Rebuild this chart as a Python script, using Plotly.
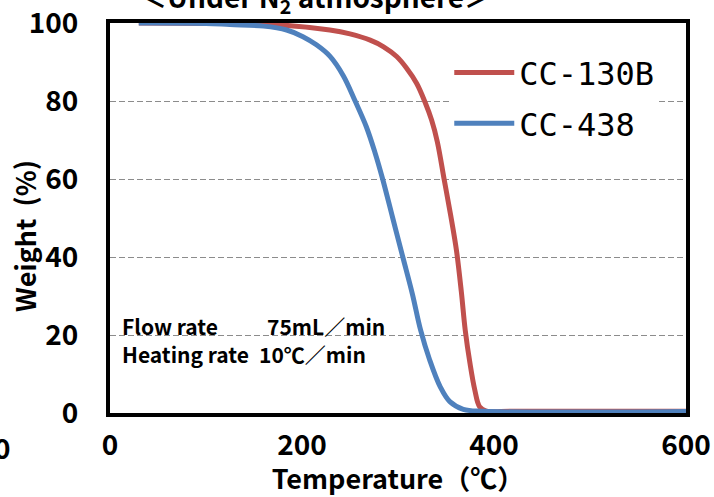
import plotly.graph_objects as go

temp_130b = [30, 100, 177, 229, 250, 271, 285, 298.6, 309, 319.5, 328, 335, 341, 348, 355, 361, 366, 370, 375, 380, 385, 392, 420, 600]
wt_130b = [100, 99.9, 99.5, 98.2, 97.2, 95.6, 93.9, 91.4, 88.4, 84.5, 79.8, 75.1, 69.5, 60, 50.5, 41.5, 31, 21.3, 12.7, 5.9, 1.6, 0.5, 0.45, 0.45]

temp_438 = [30, 100, 125, 160, 184, 201, 215, 229, 243, 255, 267, 276, 284, 294.5, 305, 315, 323.5, 333, 344, 354, 368, 389, 600]
wt_438 = [100, 99.9, 99.6, 99.2, 98.2, 96.5, 94.4, 91.5, 86.5, 80.2, 73.4, 66.8, 60, 50, 40, 30.5, 21.3, 13.6, 6.7, 2.9, 0.95, 0.45, 0.4]

x_ticks = [0, 200, 400, 600]
y_ticks = [0, 20, 40, 60, 80, 100]

FONT = "Noto Sans CJK JP"
RED = "#C0504D"
BLUE = "#4F81BD"

fig = go.Figure()
fig.add_trace(go.Scatter(x=temp_130b, y=wt_130b, mode="lines", name="CC-130B",
                         line=dict(color=RED, width=5, shape="spline", smoothing=1.0),
                         legendgroup="a"))
fig.add_trace(go.Scatter(x=temp_438, y=wt_438, mode="lines", name="CC-438",
                         line=dict(color=BLUE, width=5, shape="spline", smoothing=1.0),
                         legendgroup="b"))

fig.update_layout(
    width=714, height=497,
    margin=dict(l=110, r=28, t=23, b=84),
    paper_bgcolor="white", plot_bgcolor="white",
    font=dict(family=FONT, color="black"),
    showlegend=True,
    legend=dict(x=0.589, y=0.943, xanchor="left", yanchor="top",
                bgcolor="white", font=dict(family="DejaVu Sans Mono", size=32, color="black"),
                tracegroupgap=6, itemwidth=60),
    xaxis=dict(range=[0, 600], tickvals=x_ticks, ticks="", showgrid=False,
               showline=True, linecolor="black", linewidth=4, mirror=True,
               zeroline=False, ticklabelstandoff=4, automargin=False,
               tickfont=dict(family=FONT, size=28, weight="bold"),
               title=dict(text="Temperature（℃）", standoff=9,
                          font=dict(family=FONT, size=27, weight="bold"))),
    yaxis=dict(range=[0, 100], tickvals=y_ticks, ticks="", showgrid=True,
               gridcolor="#8c8c8c", griddash="6px,3px", gridwidth=1.3,
               showline=True, linecolor="black", linewidth=4, mirror=True,
               zeroline=False, ticklabelstandoff=22, automargin=False,
               tickfont=dict(family=FONT, size=28, weight="bold")),
)

# y-axis title
fig.add_annotation(x=(24 - 110) / 576, y=(413 - 236) / 390, xref="paper", yref="paper",
                   text="Weight  (%)", textangle=-90, showarrow=False,
                   xanchor="center", yanchor="middle",
                   font=dict(family=FONT, size=27, weight="bold"))

ann_font = dict(family=FONT, size=21, color="black", weight="bold")
fig.add_annotation(x=10, y=22.3, xref="x", yref="y", text="Flow rate", showarrow=False,
                   xanchor="left", yanchor="middle", font=ann_font)
fig.add_annotation(x=161.5, y=22.3, xref="x", yref="y", text="75mL／min", showarrow=False,
                   xanchor="left", yanchor="middle", font=ann_font)
fig.add_annotation(x=10, y=15.1, xref="x", yref="y", text="Heating rate", showarrow=False,
                   xanchor="left", yanchor="middle", font=ann_font)
fig.add_annotation(x=153, y=15.1, xref="x", yref="y", text="10℃／min", showarrow=False,
                   xanchor="left", yanchor="middle", font=ann_font)

# cropped title at the top
fig.add_annotation(x=(315 - 110) / 576, y=1 + (23 + 1.8) / 390, xref="paper", yref="paper",
                   text="＜Under N<sub>2</sub> atmosphere＞", showarrow=False,
                   xanchor="center", yanchor="middle",
                   font=dict(family=FONT, size=28, weight="bold"))
# cropped tick label at far left
fig.add_annotation(x=(2 - 110) / 576, y=-(447 - 413) / 390, xref="paper", yref="paper",
                   text="0", showarrow=False, xanchor="center", yanchor="middle",
                   font=dict(family=FONT, size=28, weight="bold"))

fig.write_html("out.html", config={"displayModeBar": False},
               post_script="document.body.style.margin='0';")
